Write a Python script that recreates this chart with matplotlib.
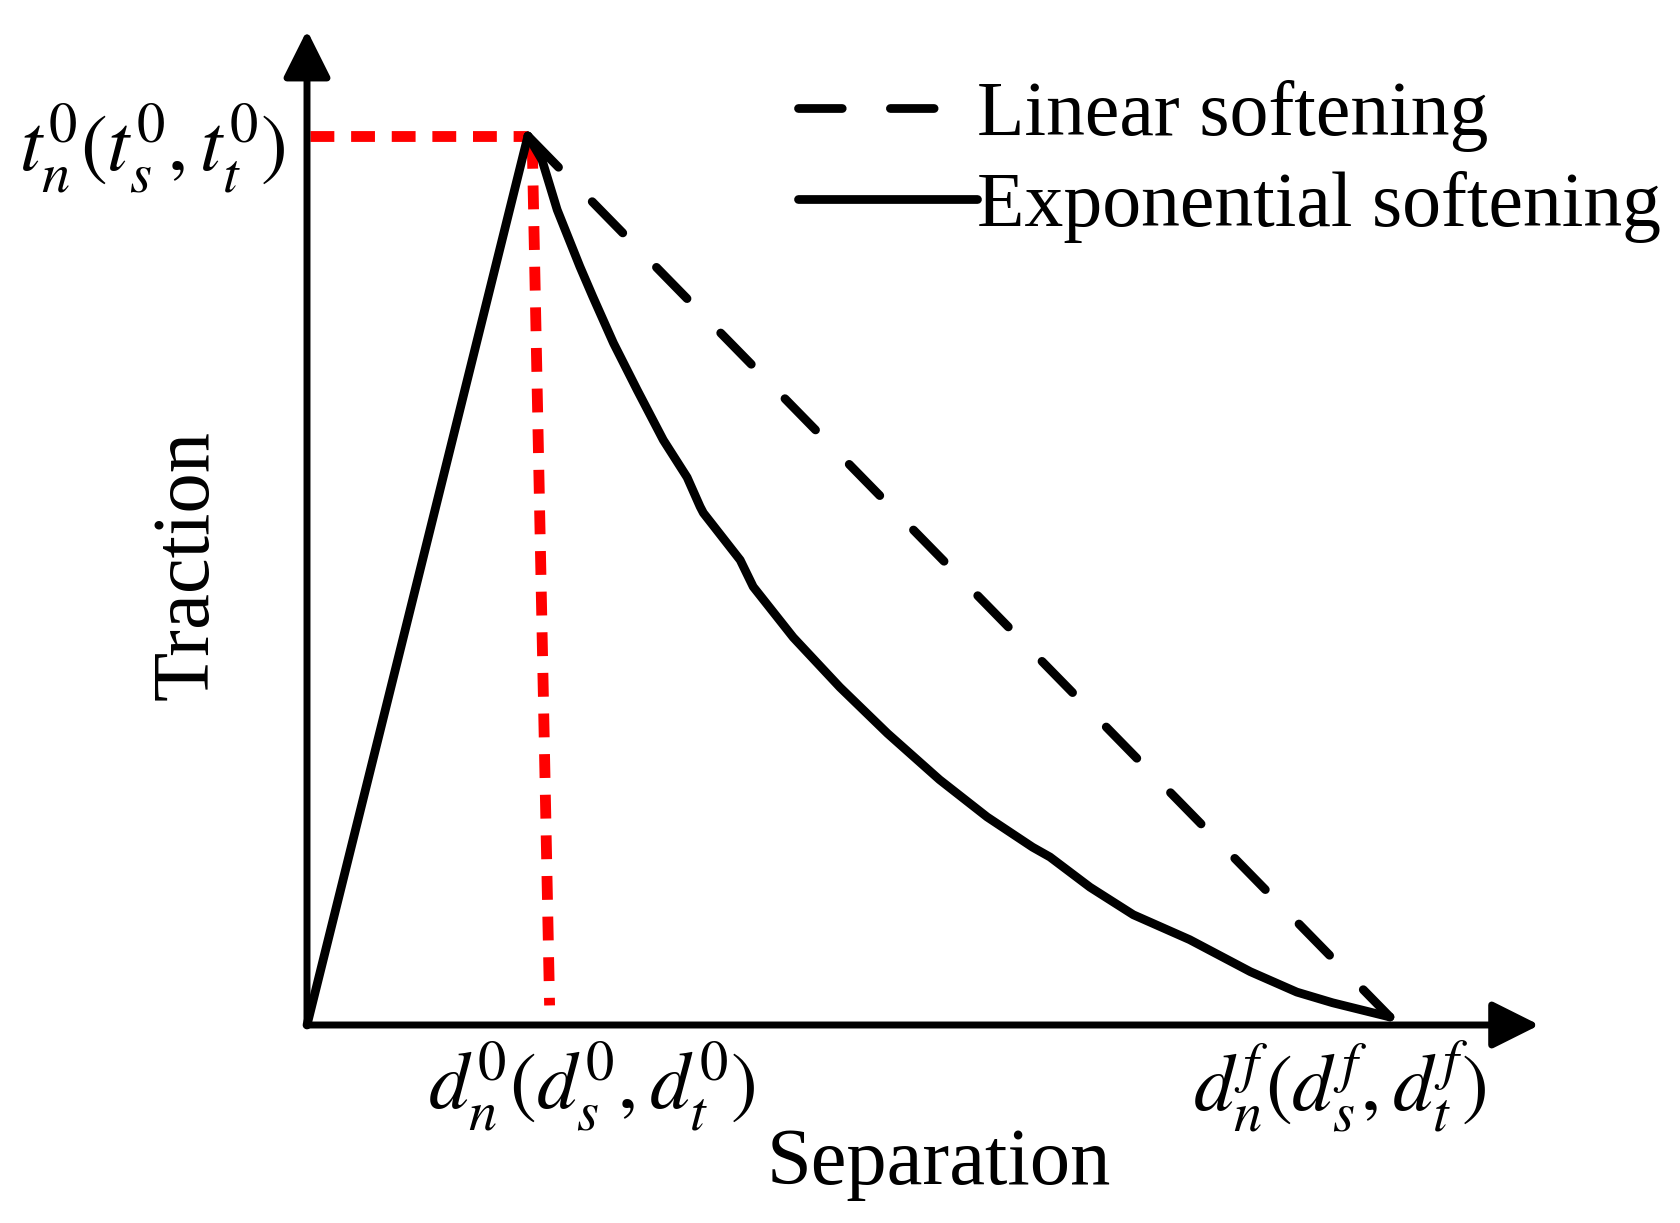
import matplotlib
matplotlib.use("Agg")
import matplotlib.pyplot as plt

plt.rcParams['font.family'] = ['Liberation Serif', 'DejaVu Serif']
plt.rcParams['mathtext.fontset'] = 'stix'

# ---- data (separation normalised by d^f, traction normalised by t^0) ----
peak_sep = 0.204
peak_trac = 1.0
final_sep = 1.0
final_trac = 0.009

rise_x = [0.0, peak_sep]
rise_y = [0.0, peak_trac]

lin_x = [peak_sep, final_sep]
lin_y = [peak_trac, final_trac]

exp_x = [0.204, 0.217, 0.231, 0.252, 0.264, 0.283, 0.305, 0.329, 0.351, 0.363,
         0.366, 0.400, 0.412, 0.449, 0.492, 0.536, 0.584, 0.628, 0.670, 0.686,
         0.723, 0.763, 0.815, 0.871, 0.914, 0.947, 1.000]
exp_y = [1.000, 0.973, 0.917, 0.853, 0.819, 0.767, 0.714, 0.658, 0.616, 0.583,
         0.576, 0.523, 0.493, 0.436, 0.380, 0.328, 0.276, 0.234, 0.200, 0.189,
         0.155, 0.124, 0.096, 0.060, 0.037, 0.025, 0.009]

red_h_x = [0.003, peak_sep]
red_h_y = [peak_trac, peak_trac]
red_v_x = [0.208, 0.224]
red_v_y = [0.990, 0.022]

x_axis_end = 1.138
y_axis_end = 1.119

labels = ["Linear softening", "Exponential softening"]
xlabel = "Separation"
ylabel = "Traction"
t_label = r"$t_n^0(t_s^0,t_t^0)$"
d0_label = r"$d_n^0(d_s^0,d_t^0)$"
df_label = r"$d_n^f(d_s^f,d_t^f)$"

fig = plt.figure(figsize=(16.8, 12.23), dpi=100)
ax = fig.add_axes([0, 0, 1, 1])
ax.set_xlim(-307 / 1083, (1680 - 307) / 1083)
ax.set_ylim(-(1223 - 1025) / 889, 1025 / 889)
ax.axis('off')

# axes with arrows
for xy in [(0, y_axis_end), (x_axis_end, 0)]:
    ax.annotate('', xy=xy, xytext=(0, 0),
                arrowprops=dict(arrowstyle='-|>,head_length=0.4,head_width=0.2',
                                mutation_scale=72, lw=5, color='black',
                                shrinkA=0, shrinkB=0))

# red reference lines
ax.plot(red_h_x, red_h_y, color='#ff0000', lw=7.8, dashes=(2.2, 1.55),
        dash_capstyle='butt', zorder=2)
ax.plot(red_v_x, red_v_y, color='#ff0000', lw=7.8, dashes=(2.2, 1.55),
        dash_capstyle='butt', zorder=2)

# curves
lw = 6.3
ax.plot(rise_x, rise_y, color='black', lw=lw, solid_capstyle='round',
        solid_joinstyle='round', zorder=3)
l1, = ax.plot(lin_x, lin_y, color='black', lw=lw, dashes=(5.0, 5.5),
              dash_capstyle='round', zorder=3, label=labels[0])
l2, = ax.plot(exp_x, exp_y, color='black', lw=lw, solid_capstyle='round',
              solid_joinstyle='round', zorder=3, label=labels[1])

fs = 58
ax.legend(handles=[l1, l2], loc='upper left', bbox_to_anchor=(798 / 1680, 1 - 80 / 1223),
          frameon=False, fontsize=56, handlelength=2.3, handletextpad=0.0,
          borderpad=0, borderaxespad=0, labelspacing=0.24)

ax.text(-0.11, 0.517, ylabel, rotation=90, ha='center', va='center', fontsize=fs)
ax.text(0.583, -0.179, xlabel, ha='center', va='baseline', fontsize=fs)

ax.text(-0.143, 0.985, t_label, ha='center', va='center', fontsize=fs)
ax.text(0.263, -0.07, d0_label, ha='center', va='center', fontsize=fs)
ax.text(0.954, -0.07, df_label, ha='center', va='center', fontsize=fs)

fig.savefig("out.png", dpi=100)
